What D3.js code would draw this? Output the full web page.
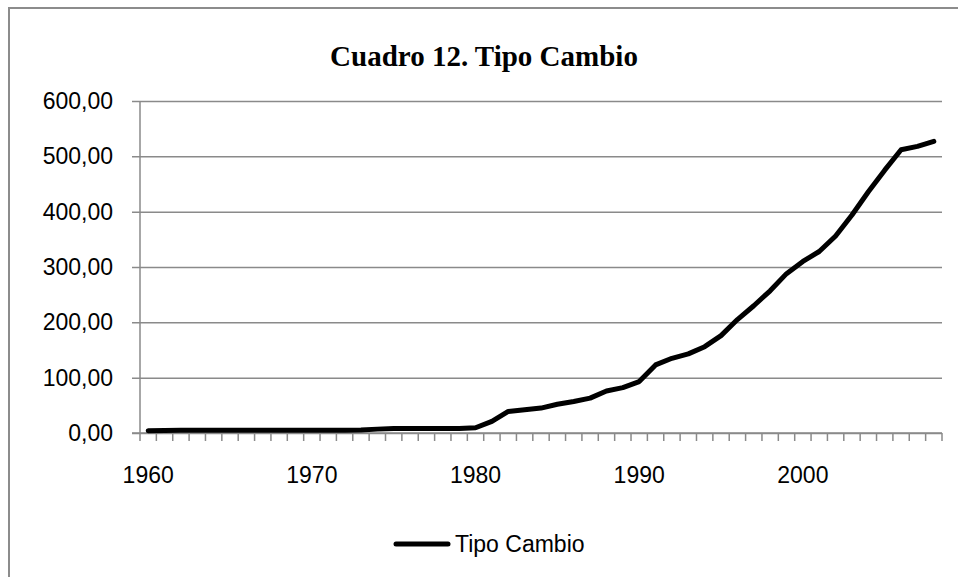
<!DOCTYPE html>
<html>
<head>
<meta charset="utf-8">
<script src="https://cdn.jsdelivr.net/npm/d3@7"></script>
<style>
  body { margin: 0; background: #fff; }
  svg { display: block; }
</style>
</head>
<body>
<div id="chart"></div>
<script>
// Data
const years = d3.range(1960, 2009);
const tipoCambio = [
  4, 4.5, 5, 5, 5, 5, 5, 5, 5, 5,          // 1960-1969
  5, 5, 5, 5.5, 7, 8, 8, 8, 8, 8,          // 1970-1979
  9.5, 21, 39, 42, 45, 52, 57, 63, 76, 82, // 1980-1989
  93, 123, 135, 143, 156, 176, 205, 230, 257, 288, // 1990-1999
  310, 328, 356, 394, 436, 475, 512, 518, 527      // 2000-2008
];
const yTicks = [0, 100, 200, 300, 400, 500, 600];
const xLabels = [1960, 1970, 1980, 1990, 2000];
const seriesName = 'Tipo Cambio';
const title = 'Cuadro 12. Tipo Cambio';

const width = 958, height = 577;
const plot = { left: 140, right: 942, top: 101, bottom: 433 };
const sansFont = '"Liberation Sans", Arial, sans-serif';
const gridColor = '#8a8a8a';

const svg = d3.select('#chart')
  .append('svg')
  .attr('width', width)
  .attr('height', height);

// Outer chart frame
svg.append('rect')
  .attr('x', 9).attr('y', 8)
  .attr('width', 980).attr('height', 600)
  .attr('fill', 'none')
  .attr('stroke', '#8c8c8c')
  .attr('stroke-width', 2);

// Title
svg.append('text')
  .attr('x', 484).attr('y', 66)
  .attr('text-anchor', 'middle')
  .style('font-family', '"Liberation Serif", "Times New Roman", serif')
  .style('font-weight', 'bold')
  .style('font-size', '29px')
  .text(title);

// Scales
const x = d3.scaleBand()
  .domain(years)
  .range([plot.left, plot.right])
  .padding(0);

const y = d3.scaleLinear()
  .domain([0, 600])
  .range([plot.bottom, plot.top]);

// Gridlines + y axis labels
const yAxis = d3.axisLeft(y)
  .tickValues(yTicks)
  .tickSize(-(plot.right - plot.left))
  .tickPadding(27)
  .tickFormat(d => d3.format('.2f')(d).replace('.', ','));

const gy = svg.append('g')
  .attr('transform', `translate(${plot.left},0)`)
  .call(yAxis);
gy.select('.domain').remove();
gy.selectAll('.tick line')
  .attr('x1', -8)
  .attr('stroke', gridColor)
  .attr('stroke-width', 1.5);
gy.selectAll('.tick text')
  .style('font-family', sansFont)
  .style('font-size', '23px')
  .attr('fill', '#000');

// Vertical axis line
svg.append('line')
  .attr('x1', plot.left).attr('x2', plot.left)
  .attr('y1', plot.top).attr('y2', plot.bottom)
  .attr('stroke', gridColor)
  .attr('stroke-width', 1.5);

// Category axis: tick marks between categories
const boundaries = years.map(d => x(d)).concat([x(years[years.length - 1]) + x.bandwidth()]);
const gx = svg.append('g');
gx.append('line')
  .attr('x1', plot.left - 8).attr('x2', plot.right)
  .attr('y1', plot.bottom).attr('y2', plot.bottom)
  .attr('stroke', gridColor)
  .attr('stroke-width', 1.5);
gx.selectAll('line.tick')
  .data(boundaries)
  .enter()
  .append('line')
  .attr('class', 'tick')
  .attr('x1', d => d).attr('x2', d => d)
  .attr('y1', plot.bottom).attr('y2', plot.bottom + 8)
  .attr('stroke', gridColor)
  .attr('stroke-width', 1.5);
gx.selectAll('text')
  .data(xLabels)
  .enter()
  .append('text')
  .attr('x', d => x(d) + x.bandwidth() / 2)
  .attr('y', 483)
  .attr('text-anchor', 'middle')
  .style('font-family', sansFont)
  .style('font-size', '23px')
  .text(d => d);

// Series line
const line = d3.line()
  .x((d, i) => x(years[i]) + x.bandwidth() / 2)
  .y(d => y(d));

svg.append('path')
  .datum(tipoCambio)
  .attr('d', line)
  .attr('fill', 'none')
  .attr('stroke', '#000')
  .attr('stroke-width', 5)
  .attr('stroke-linejoin', 'round')
  .attr('stroke-linecap', 'round');

// Legend
const legend = svg.append('g');
legend.append('line')
  .attr('x1', 396).attr('x2', 448)
  .attr('y1', 544).attr('y2', 544)
  .attr('stroke', '#000')
  .attr('stroke-width', 5)
  .attr('stroke-linecap', 'round');
legend.append('text')
  .attr('x', 455).attr('y', 552)
  .style('font-family', sansFont)
  .style('font-size', '23px')
  .text(seriesName);
</script>
</body>
</html>
